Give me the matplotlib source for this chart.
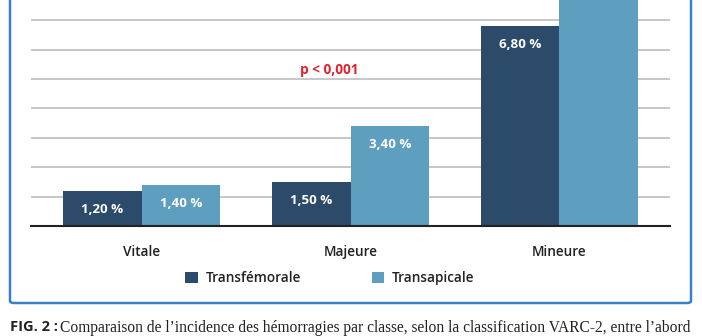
import matplotlib
matplotlib.use("Agg")
import matplotlib.pyplot as plt
from matplotlib.patches import FancyBboxPatch, Patch
import numpy as np

categories = ["Vitale", "Majeure", "Mineure"]
transfemorale = [1.20, 1.50, 6.80]
transapicale = [1.40, 3.40, 9.00]
series_names = ["Transfémorale", "Transapicale"]
colors = ["#2c4a69", "#5e9ebe"]
yticks = [1, 2, 3, 4, 5, 6, 7]

plt.rcParams['font.family'] = ['Open Sans', 'DejaVu Sans']

W, H = 702, 336
fig = plt.figure(figsize=(W/100, H/100), dpi=100)
fig.patch.set_facecolor("white")

ax = fig.add_axes([31/W, 110/H, (670-31)/W, 226/H])
x = np.arange(len(categories))
bw = 0.377
b1 = ax.bar(x - bw/2, transfemorale, bw, color=colors[0], zorder=3)
b2 = ax.bar(x + bw/2, transapicale, bw, color=colors[1], zorder=3)

for bars, vals in ((b1, transfemorale), (b2, transapicale)):
    for rect, v in zip(bars, vals):
        ax.annotate(f"{v:.2f} %".replace(".", ","),
                    (rect.get_x() + rect.get_width()/2, v),
                    xytext=(0, -13.5), textcoords="offset points",
                    ha="center", va="center", color="white",
                    fontsize=9.6, fontweight="bold", zorder=4,
                    annotation_clip=True)

ax.set_xlim(-0.53, 2.53)
ax.set_ylim(0, 7.69)
ax.set_yticks(yticks)
ax.yaxis.grid(True, color="#bdbdbd", linewidth=1.2, zorder=0)
ax.tick_params(axis="y", left=False, labelleft=False)
ax.tick_params(axis="x", bottom=False, pad=10)
ax.set_xticks(x)
ax.set_xticklabels(categories, fontsize=9.8, color="#222222", fontweight="semibold")
for s in ["top", "right", "left"]:
    ax.spines[s].set_visible(False)
ax.spines["bottom"].set_color("#222222")
ax.spines["bottom"].set_linewidth(1.5)
ax.spines["bottom"].set_zorder(5)
ax.set_facecolor("none")

ax.text(0.897, 5.3, "p < 0,001", color="#e2222e", fontsize=9.8,
        fontweight="bold", ha="center", va="center")

handles = [Patch(facecolor=c, edgecolor="none") for c in colors]
fig.legend(handles, series_names, loc="center", bbox_to_anchor=(330/W, 1 - 278/H),
           ncol=2, frameon=False, fontsize=9.8, handlelength=0.9, handleheight=0.9,
           handletextpad=0.6, columnspacing=5.2, labelcolor="#222222",
           prop={"weight": "semibold", "size": 9.8})

border = FancyBboxPatch((10/W, 1 - 303/H), (691-10)/W, 1.0,
                        boxstyle="round,pad=0,rounding_size=0.006",
                        transform=fig.transFigure, facecolor="none",
                        edgecolor="#3a80c9", linewidth=1.8, clip_on=False)
fig.add_artist(border)

fig.text(10/W, 1 - 320/H, "FIG. 2 :", fontsize=10.5, fontweight="bold",
         color="#222222", va="top", ha="left")
fig.text(60/W, 1 - 320/H,
         "Comparaison de l’incidence des hémorragies par classe, selon la classification VARC-2, entre l’abord",
         fontsize=11.2, family="Liberation Serif", color="#222222", va="top", ha="left")

fig.savefig("out.png", dpi=100)
